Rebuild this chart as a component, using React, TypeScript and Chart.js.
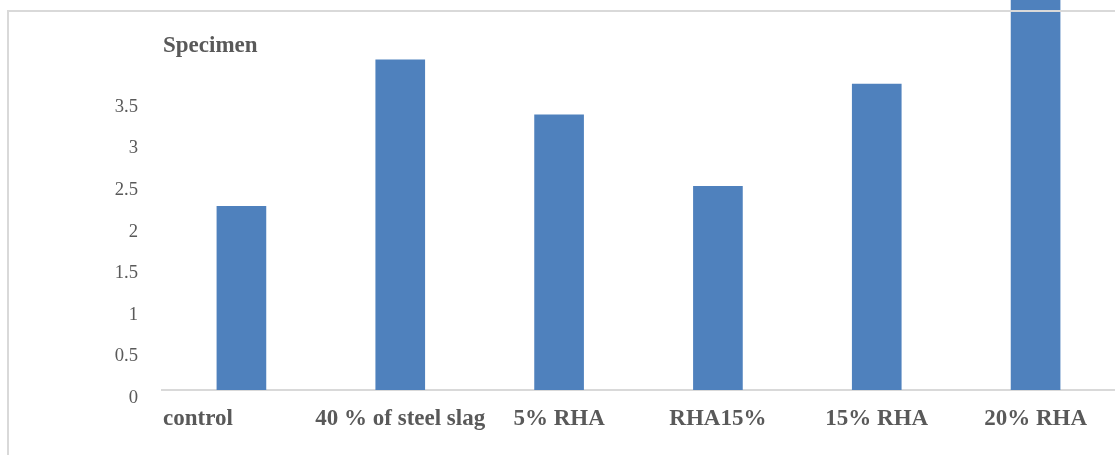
import { useEffect, useRef } from "react";
import { Chart, registerables } from "chart.js";

Chart.register(...registerables);

// Specimen categories along the horizontal axis
const categories = ["control", "40 % of steel slag", "5% RHA", "RHA15%", "15% RHA", "20% RHA"];

// Measured value per specimen
const specimenValues = [2.21, 3.97, 3.31, 2.45, 3.68, 4.8];

// Tick values that carry a label on the vertical axis
const yTickLabels = [0, 0.5, 1, 1.5, 2, 2.5, 3, 3.5];

const Y_MAX = 4.69;
const AXIS_TITLE = "Specimen";

const SERIF = '"Liberation Serif", "Times New Roman", serif';
const TEXT_COLOR = "#595959";
const LINE_COLOR = "#d9d9d9";
const BAR_COLOR = "#4f81bd";

// Draws the category labels, the axis caption and the outer frame
const decorations = {
  id: "decorations",
  afterDraw(chart: any) {
    const { ctx, chartArea, scales } = chart;
    const xScale = scales.x;
    ctx.save();
    ctx.fillStyle = TEXT_COLOR;
    ctx.font = `bold 23px ${SERIF}`;
    ctx.textBaseline = "alphabetic";
    categories.forEach((label, i) => {
      const first = i === 0;
      ctx.textAlign = first ? "left" : "center";
      const px = first ? chartArea.left + 1 : xScale.getPixelForValue(i);
      ctx.fillText(label, px, chartArea.bottom + 35);
    });
    ctx.textAlign = "left";
    ctx.fillText(AXIS_TITLE, chartArea.left + 1, 52);

    ctx.strokeStyle = LINE_COLOR;
    ctx.lineWidth = 2;
    ctx.beginPath();
    ctx.moveTo(8, 455);
    ctx.lineTo(8, 11);
    ctx.lineTo(chart.width, 11);
    ctx.stroke();
    ctx.restore();
  },
};

export default function App() {
  const canvasRef = useRef<HTMLCanvasElement | null>(null);

  useEffect(() => {
    if (!canvasRef.current) return;
    const chart = new Chart(canvasRef.current, {
      type: "bar",
      data: {
        labels: categories,
        datasets: [
          {
            label: AXIS_TITLE,
            data: specimenValues,
            backgroundColor: BAR_COLOR,
            borderWidth: 0,
            barThickness: 49,
          },
        ],
      },
      options: {
        animation: false,
        responsive: true,
        maintainAspectRatio: false,
        layout: { padding: 0 },
        plugins: {
          legend: { display: false },
          tooltip: { enabled: false },
        },
        scales: {
          x: {
            type: "category",
            offset: true,
            grid: { display: false },
            border: { display: true, color: LINE_COLOR, width: 2 },
            ticks: { display: false },
            afterFit(scale: any) {
              scale.height = 74;
              scale.paddingLeft = 0;
              scale.paddingRight = 0;
            },
          },
          y: {
            min: 0,
            max: Y_MAX,
            grid: { display: false },
            border: { display: false },
            ticks: {
              stepSize: 0.5,
              padding: 16,
              labelOffset: 8,
              color: TEXT_COLOR,
              font: { family: SERIF, size: 18.67 },
              callback(value: any) {
                const v = Number(value);
                return yTickLabels.includes(v) ? String(v) : null;
              },
            },
            afterFit(scale: any) {
              scale.width = 162;
              scale.paddingTop = 0;
              scale.paddingBottom = 0;
            },
          },
        },
      },
      plugins: [decorations],
    });
    return () => chart.destroy();
  }, []);

  return (
    <div style={{ position: "absolute", left: 0, top: 0, width: 1115, height: 464, background: "#fff" }}>
      <canvas ref={canvasRef} />
    </div>
  );
}
